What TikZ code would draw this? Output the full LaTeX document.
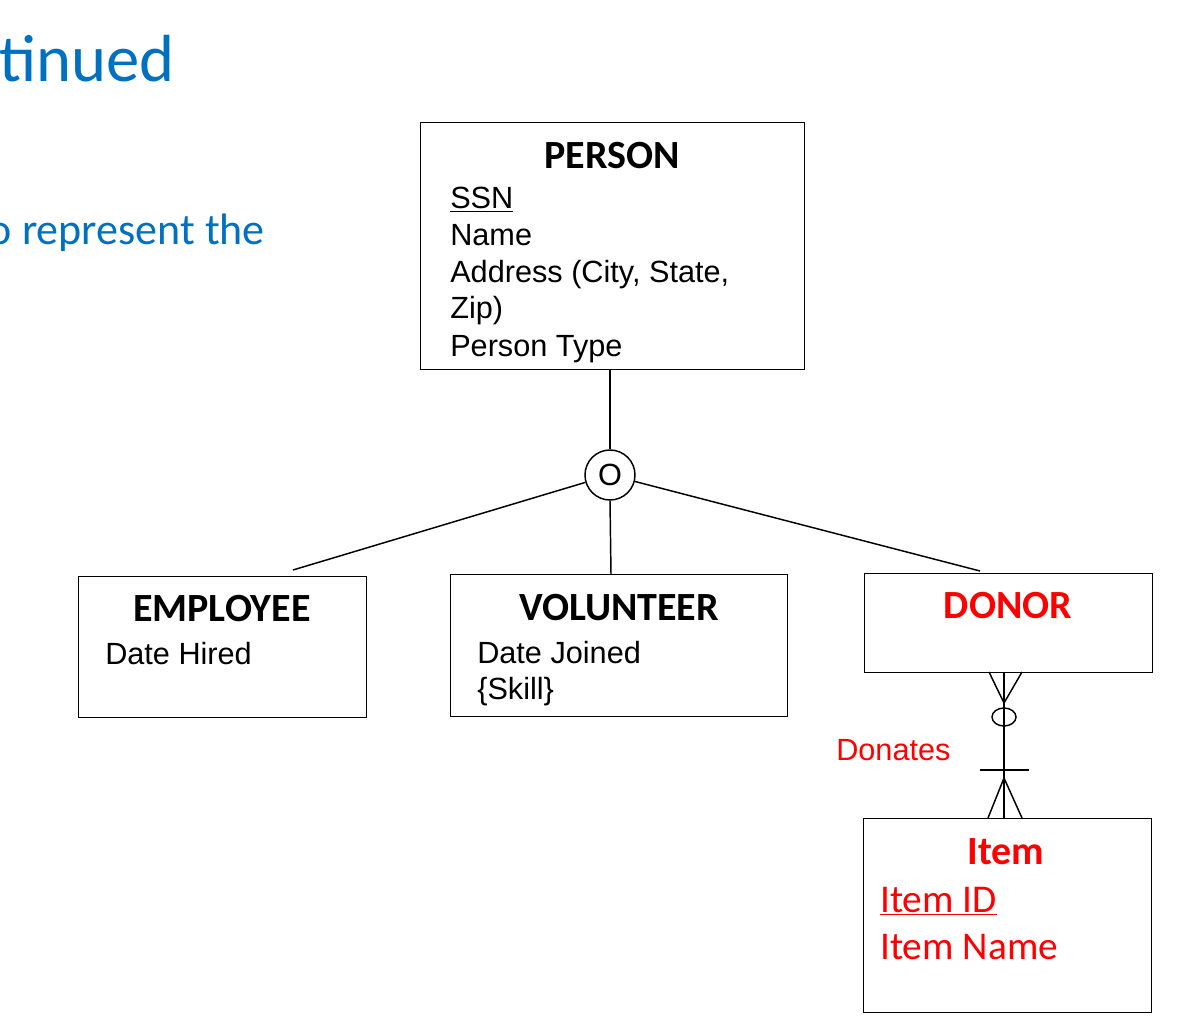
\documentclass[tikz,border=0pt]{standalone}
\usepackage{fontspec}
\usetikzlibrary{shapes.geometric}
\setmainfont{Liberation Sans}
\newfontfamily\calfont{Carlito}
\definecolor{ttlblue}{HTML}{0070C0}
\definecolor{erred}{HTML}{FF0000}
\tikzset{
  ent/.style={draw, line width=1.1pt},
  hdr/.style={font=\calfont\bfseries\fontsize{30}{34}\selectfont, anchor=base},
  attr/.style={font=\fontsize{23}{27}\selectfont, anchor=base west, inner sep=0pt},
  rattr/.style={font=\calfont\fontsize{29.5}{34}\selectfont, anchor=base west, inner sep=0pt, text=erred},
  conn/.style={line width=1.1pt},
}
\begin{document}
\begin{tikzpicture}[x=0.75pt,y=-0.75pt]
\useasboundingbox (0,0) rectangle (1196,1016);
% title fragments
\node[font=\calfont\fontsize{50}{58}\selectfont, text=ttlblue, anchor=base west, inner sep=0pt] (ttl) at (-1,82) {tinued};
\node[font=\calfont\fontsize{33}{38}\selectfont, text=ttlblue, anchor=base east, inner sep=0pt] (sub) at (265,245) {o represent the};
% PERSON
\node[ent, minimum width=384*0.75pt, minimum height=247*0.75pt, anchor=north west] (person) at (420,122) {};
\node[hdr] (personh) at (612,169) {PERSON};
\node[attr] (ssn) at (450,209) {\underline{SSN}};
\node[attr] (pname) at (450,246) {Name};
\node[attr] (paddr) at (450,283) {Address (City, State,};
\node[attr] (pzip) at (450,319) {Zip)};
\node[attr] (ptype) at (450,356) {Person Type};
% circle
\node[draw, circle, line width=1.1pt, minimum size=50*0.75pt, inner sep=0pt, font=\fontsize{23}{27}\selectfont] (ov) at (610,475) {O};
% EMPLOYEE
\node[ent, minimum width=288*0.75pt, minimum height=141*0.75pt, anchor=north west] (emp) at (78,576) {};
\node[hdr] (emph) at (222,621) {EMPLOYEE};
\node[attr] (hired) at (105,664) {Date Hired};
% VOLUNTEER
\node[ent, minimum width=337*0.75pt, minimum height=142*0.75pt, anchor=north west] (vol) at (450,574) {};
\node[hdr] (volh) at (619,620) {VOLUNTEER};
\node[attr] (joined) at (477,663) {Date Joined};
\node[attr] (skill) at (477,699) {\{Skill\}};
% DONOR
\node[ent, minimum width=288*0.75pt, minimum height=99*0.75pt, anchor=north west] (donor) at (864,573) {};
\node[hdr, text=erred] (donorh) at (1008,618) {DONOR};
% ITEM
\node[ent, minimum width=288*0.75pt, minimum height=194*0.75pt, anchor=north west] (item) at (863,818) {};
\node[hdr, text=erred] (itemh) at (1006,864) {Item};
\node[rattr] (itemid) at (880,912) {\underline{Item ID}};
\node[rattr] (itemname) at (880,959) {Item Name};
\node[font=\fontsize{23}{27}\selectfont, text=erred, anchor=base west, inner sep=0pt] (donates) at (836,760) {Donates};
% coordinates for connectors
\coordinate (eTop) at (293,570);
\coordinate (vTop) at (611,574);
\coordinate (dTop) at (980,571);
\draw[conn] (person.south -| ov.north) -- (ov.north);
\draw[conn] (ov) -- (eTop);
\draw[conn] (ov.south) -- (vTop);
\draw[conn] (ov) -- (dTop);
% relationship Donates
\coordinate (rTop) at (1004,672);
\coordinate (rBot) at (1004,818);
\draw[conn] (rTop) -- (rBot);
\coordinate (cfA) at (1004,703);
\draw[conn] (989,672) -- (cfA) -- (1022,672);
\node[draw, ellipse, line width=1.1pt, minimum width=24*0.75pt, minimum height=18*0.75pt, inner sep=0pt, fill=white] (opt) at (1004,717) {};
\draw[conn] (opt.north) -- (opt.south);
\draw[conn] (980,770) -- (1029,770);
\coordinate (cfB) at (1004,778);
\draw[conn] (988,818) -- (cfB) -- (1022,818);
\end{tikzpicture}
\end{document}
